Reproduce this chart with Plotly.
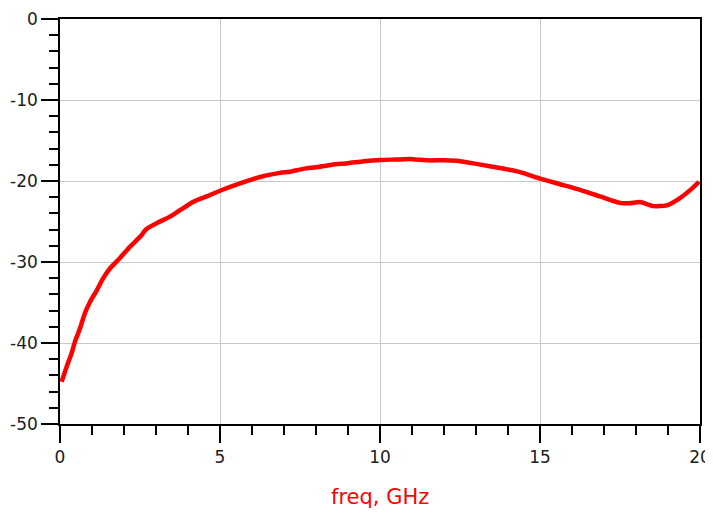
import plotly.graph_objects as go

freq_ghz = [0.05, 0.21, 0.36, 0.47, 0.625, 0.78, 0.94, 1.15, 1.35, 1.56, 1.875, 2.19,
            2.5, 2.71, 3.02, 3.44, 3.75, 4.17, 4.58, 5.0, 5.625, 6.25, 6.875, 7.19,
            7.6, 8.0, 8.5, 9.0, 9.5, 10.0, 10.5, 11.0, 11.5, 12.0, 12.5, 13.1, 13.75,
            14.375, 15.0, 15.625, 16.25, 16.875, 17.5, 17.8, 18.125, 18.54, 18.96,
            19.375, 19.7, 19.97]
s_db = [-44.8, -42.9, -41.3, -39.8, -38.2, -36.3, -34.9, -33.5, -32.0, -30.8, -29.5, -28.1,
        -26.9, -25.9, -25.2, -24.4, -23.6, -22.55, -21.9, -21.2, -20.3, -19.5, -19.0, -18.85,
        -18.5, -18.3, -18.0, -17.8, -17.55, -17.4, -17.35, -17.3, -17.45, -17.45, -17.55,
        -17.95, -18.4, -18.9, -19.7, -20.4, -21.1, -21.9, -22.7, -22.75, -22.6, -23.1,
        -23.0, -22.1, -21.1, -20.1]

x_ticks = [0, 5, 10, 15, 20]
y_ticks = [0, -10, -20, -30, -40, -50]
x_title = "freq, GHz"

font_family = "DejaVu Sans, Liberation Sans, Arial, sans-serif"

fig = go.Figure()
fig.add_trace(go.Scatter(x=freq_ghz, y=s_db, mode="lines",
                         line=dict(color="#ff0000", width=4.5, shape="spline", smoothing=0.6),
                         showlegend=False, hoverinfo="skip"))

axis_common = dict(
    showline=True, linecolor="#000000", linewidth=1.5, mirror=True,
    showgrid=True, gridcolor="#c8c8c8", gridwidth=1,
    zeroline=False, automargin=False,
    ticks="outside", ticklen=17, tickwidth=1.5, tickcolor="#000000",
    tickfont=dict(family=font_family, size=17, color="#202020"),
)

fig.update_xaxes(range=[0, 20], tickvals=x_ticks, ticktext=[str(v) for v in x_ticks],
                 minor=dict(dtick=1, ticks="outside", ticklen=9, tickwidth=1.5,
                            tickcolor="#000000", showgrid=False),
                 **axis_common)
fig.update_yaxes(range=[-50, 0], tickvals=y_ticks, ticktext=[str(v) for v in y_ticks],
                 minor=dict(dtick=2, ticks="outside", ticklen=9, tickwidth=1.5,
                            tickcolor="#000000", showgrid=False),
                 **axis_common)

fig.add_annotation(text=x_title, xref="paper", yref="paper", x=0.5, y=-0.18,
                   xanchor="center", yanchor="middle", showarrow=False,
                   font=dict(family=font_family, size=21, color="#ff0000"))

# page body has an 8px default margin, so the figure is sized/offset to compensate
fig.update_layout(width=705, height=507,
                  margin=dict(l=52, r=13, t=11, b=91),
                  plot_bgcolor="#ffffff", paper_bgcolor="#ffffff")

fig.write_html("out.html")
